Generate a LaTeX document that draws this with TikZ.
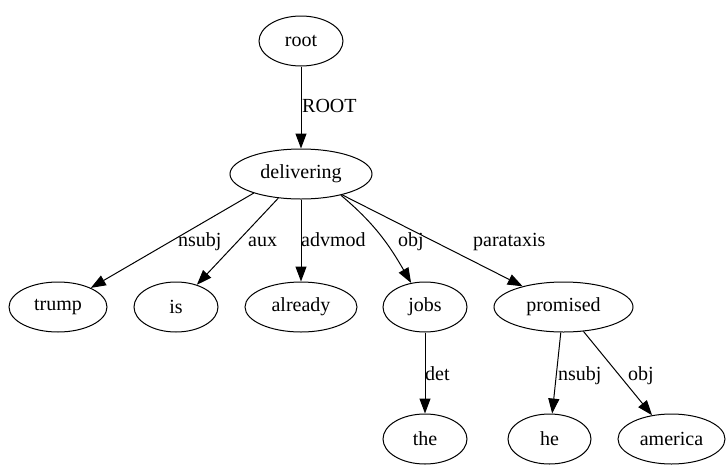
\documentclass[tikz,border=0pt]{standalone}
\usepackage{fontspec}
\setmainfont{Liberation Serif}
\usetikzlibrary{shapes.geometric,arrows.meta}
\begin{document}
\begin{tikzpicture}[x=1pt,y=-1pt,
  tok/.style={draw,ellipse,inner sep=0pt,line width=1pt,minimum height=50pt,font=\fontsize{20}{22}\selectfont},
  lbl/.style={inner sep=0pt,anchor=base west,font=\fontsize{20}{22}\selectfont},
  dep/.style={line width=1pt,-{Triangle[length=15pt,width=11pt]}}]
\useasboundingbox (0,0) rectangle (726,464);
\node[tok,minimum width=84pt] (root) at (301,41) {root};
\node[tok,minimum width=142pt] (delivering) at (301,174) {delivering};
\node[tok,minimum width=98pt] (trump) at (58,307) {trump};
\node[tok,minimum width=84pt] (is) at (176,307) {is};
\node[tok,minimum width=112pt] (already) at (301,307) {already};
\node[tok,minimum width=84pt] (jobs) at (425,307) {jobs};
\node[tok,minimum width=139pt] (promised) at (563.5,307) {promised};
\node[tok,minimum width=84pt] (the) at (425,439) {the};
\node[tok,minimum width=83pt] (he) at (549.5,439) {he};
\node[tok,minimum width=107pt] (america) at (671.5,439) {america};

\draw[dep] (root) -- (delivering);
\draw[dep] (delivering.-158) -- (trump);
\draw[dep] (delivering) -- (is);
\draw[dep] (delivering) -- (already);
\draw[dep] (delivering.-28) to[out=-40,in=120] (jobs);
\draw[dep] (delivering) -- (promised);
\draw[dep] (jobs) -- (the);
\draw[dep] (promised) -- (he);
\draw[dep] (promised) -- (america);

\node[lbl] (l0) at (302,112) {ROOT};
\node[lbl] (l1) at (178,246) {nsubj};
\node[lbl] (l2) at (248,246) {aux};
\node[lbl] (l3) at (301,246) {advmod};
\node[lbl] (l4) at (398,246) {obj};
\node[lbl] (l5) at (473,246) {parataxis};
\node[lbl] (l6) at (425,380) {det};
\node[lbl] (l7) at (558,380) {nsubj};
\node[lbl] (l8) at (628,380) {obj};
\end{tikzpicture}
\end{document}
